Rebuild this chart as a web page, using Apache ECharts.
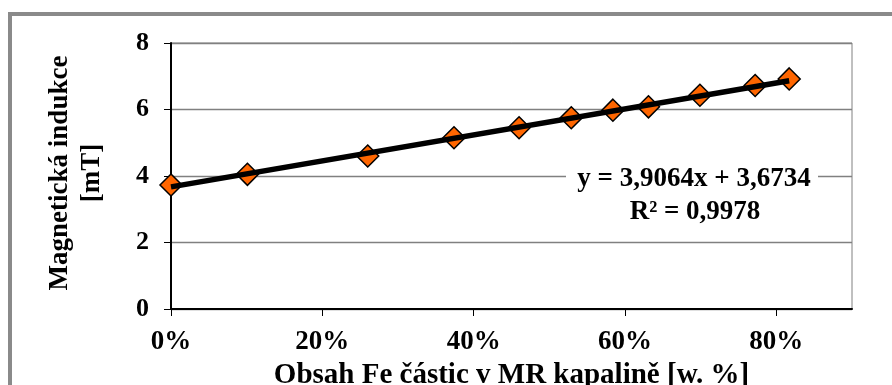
<!DOCTYPE html>
<html>
<head>
<meta charset="utf-8">
<script src="https://cdn.jsdelivr.net/npm/echarts@6/dist/echarts.min.js"></script>
<style>
html,body{margin:0;padding:0;background:#fff;}
#c{width:892px;height:385px;}
</style>
</head>
<body>
<div id="c"></div>
<script>
// Data
var feContent = [0.000, 0.101, 0.260, 0.374, 0.460, 0.529, 0.584, 0.631, 0.699, 0.772, 0.817];
var induction = [3.73, 4.05, 4.60, 5.15, 5.45, 5.75, 5.98, 6.08, 6.43, 6.72, 6.92];
// Trendline coefficients as printed on the chart
var trendSlope = 3.9064;
var trendIntercept = 3.6734;
var trendLabel = ['y = 3,9064x + 3,6734', 'R² = 0,9978'];
var xTicks = [0, 0.2, 0.4, 0.6, 0.8];
var xTitle = 'Obsah Fe částic v MR kapalině [w. %]';
var yTitle = 'Magnetická indukce\n[mT]';

var FONT = '"Liberation Serif","Times New Roman",serif';
var points = feContent.map(function (x, i) { return [x, induction[i]]; });
var xFirst = feContent[0], xLast = feContent[feContent.length - 1];
var trend = [[xFirst, trendSlope * xFirst + trendIntercept], [xLast, trendSlope * xLast + trendIntercept]];

var chart = echarts.init(document.getElementById('c'), null, {renderer: 'canvas'});
chart.setOption({
  animation: false,
  backgroundColor: '#fff',
  grid: {left: 171, top: 43, right: 40, bottom: 76, containLabel: false, outerBoundsMode: 'none',
    show: true, borderColor: '#808080', borderWidth: 1, backgroundColor: 'transparent'},
  xAxis: {
    type: 'value', min: 0, max: 0.9, interval: 0.2,
    name: xTitle, nameLocation: 'middle', nameGap: 50,
    nameTextStyle: {fontFamily: FONT, fontWeight: 'bold', fontSize: 29, color: '#000'},
    axisLine: {show: true, onZero: false, lineStyle: {color: '#000', width: 2}},
    axisTick: {show: true, inside: false, length: 7, customValues: xTicks, lineStyle: {color: '#000', width: 1}},
    axisLabel: {customValues: xTicks, margin: 20, fontFamily: FONT, fontWeight: 'bold', fontSize: 27, color: '#000',
      formatter: function (v) { return Math.round(v * 100) + '%'; }},
    splitLine: {show: false}
  },
  yAxis: {
    type: 'value', min: 0, max: 8, interval: 2,
    axisLine: {show: true, onZero: false, lineStyle: {color: '#000', width: 2}},
    axisTick: {show: true, inside: false, length: 7, lineStyle: {color: '#000', width: 1}},
    axisLabel: {margin: 22, fontFamily: FONT, fontWeight: 'bold', fontSize: 26, color: '#000', padding: [5, 0, 0, 0]},
    splitLine: {show: true, lineStyle: {color: '#808080', width: 1.3}}
  },
  series: [
    {
      type: 'scatter', data: points, symbol: 'diamond', symbolSize: 22, z: 2,
      itemStyle: {color: '#FF6600', borderColor: '#000', borderWidth: 1.5, opacity: 1}
    },
    {
      type: 'line', data: trend, showSymbol: false, symbol: 'none', z: 3,
      lineStyle: {color: '#000', width: 5.5}
    }
  ],
  graphic: [
    {type: 'rect', z: 100, silent: true,
      shape: {x: 10, y: 14, width: 960, height: 420},
      style: {fill: 'none', stroke: '#8a8a8a', lineWidth: 4}},
    {type: 'rect', z: 50, silent: true,
      shape: {x: 566, y: 164, width: 252, height: 64},
      style: {fill: '#fff', stroke: 'none'}},
    {type: 'text', z: 60, silent: true, x: 694, y: 179,
      style: {text: trendLabel[0], align: 'center', verticalAlign: 'middle', font: 'bold 27px ' + FONT, fill: '#000'}},
    {type: 'text', z: 60, silent: true, x: 695, y: 212,
      style: {text: trendLabel[1], align: 'center', verticalAlign: 'middle', font: 'bold 27px ' + FONT, fill: '#000'}},
    {type: 'text', z: 60, silent: true, x: 76, y: 173, rotation: Math.PI / 2,
      style: {text: yTitle, align: 'center', verticalAlign: 'middle', lineHeight: 32, font: 'bold 27px ' + FONT, fill: '#000'}}
  ]
});
</script>
</body>
</html>
